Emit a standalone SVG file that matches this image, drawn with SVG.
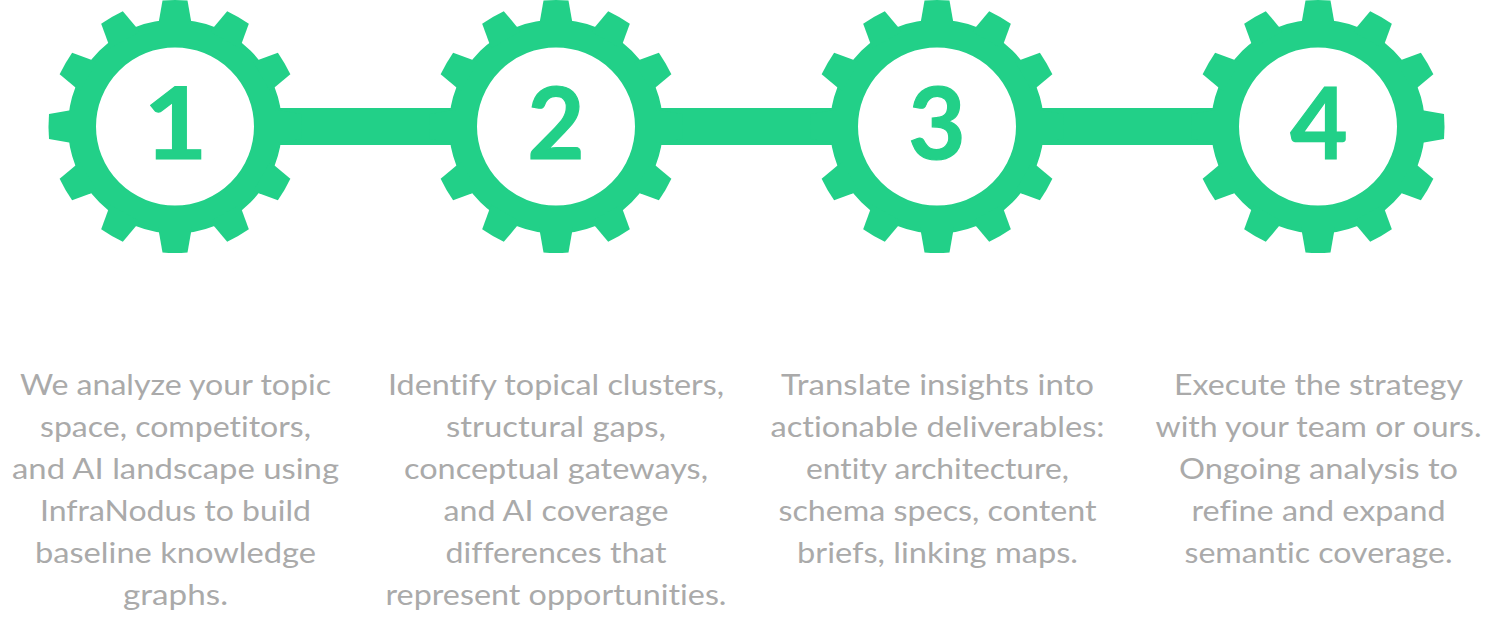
<svg xmlns="http://www.w3.org/2000/svg" width="1493" height="623" viewBox="0 0 1493 623">
<style>
.bar{fill:#22d088}
.ring{fill:none;stroke:#22d088;stroke-width:28}
.tooth{fill:#22d088}
.num{font-family:"Lato","Liberation Sans",sans-serif;font-weight:700;font-size:99px;fill:#22d088;stroke:#22d088;stroke-width:1.2px;text-anchor:middle}
.txt{font-family:"Lato","Noto Sans",sans-serif;font-size:29px;fill:#aaaaaa;text-anchor:middle;font-variant-ligatures:none}
</style>
<defs>
<path id="t" class="tooth" d="M-16.500,-100L-16,-106L-12.500,-126Q0,-127 12.500,-126L16,-106L16.500,-100Z"/>
<g id="gear">
<circle class="ring" r="93"/>
<use href="#t"/><use href="#t" transform="rotate(30)"/><use href="#t" transform="rotate(60)"/><use href="#t" transform="rotate(90)"/><use href="#t" transform="rotate(120)"/><use href="#t" transform="rotate(150)"/><use href="#t" transform="rotate(180)"/><use href="#t" transform="rotate(210)"/><use href="#t" transform="rotate(240)"/><use href="#t" transform="rotate(270)"/><use href="#t" transform="rotate(300)"/><use href="#t" transform="rotate(330)"/>
</g>
</defs>
<g id="connectors">
<rect class="bar" x="265" y="108" width="200" height="37"/>
<rect class="bar" x="646" y="108" width="200" height="37"/>
<rect class="bar" x="1027" y="108" width="200" height="37"/>
</g>
<g id="node-1">
<use href="#gear" transform="translate(175 126.500)"/>
<text class="num" x="175.500" y="158.500" textLength="64" lengthAdjust="spacingAndGlyphs">1</text>
<text class="txt" x="175.500" y="395" textLength="311" lengthAdjust="spacingAndGlyphs">We analyze your topic</text>
<text class="txt" x="175.500" y="437" textLength="271" lengthAdjust="spacingAndGlyphs">space, competitors,</text>
<text class="txt" x="175.500" y="479" textLength="327" lengthAdjust="spacingAndGlyphs">and AI landscape using</text>
<text class="txt" x="175.500" y="521" textLength="271" lengthAdjust="spacingAndGlyphs">InfraNodus to build</text>
<text class="txt" x="175.500" y="563" textLength="281" lengthAdjust="spacingAndGlyphs">baseline knowledge</text>
<text class="txt" x="175.500" y="605" textLength="105" lengthAdjust="spacingAndGlyphs">graphs.</text>
</g>
<g id="node-2">
<use href="#gear" transform="translate(556 126.500)"/>
<text class="num" x="556" y="158.500">2</text>
<text class="txt" x="556" y="395" textLength="336" lengthAdjust="spacingAndGlyphs">Identify topical clusters,</text>
<text class="txt" x="556" y="437" textLength="220" lengthAdjust="spacingAndGlyphs">structural gaps,</text>
<text class="txt" x="556" y="479" textLength="304" lengthAdjust="spacingAndGlyphs">conceptual gateways,</text>
<text class="txt" x="556" y="521" textLength="225" lengthAdjust="spacingAndGlyphs">and AI coverage</text>
<text class="txt" x="556" y="563" textLength="221" lengthAdjust="spacingAndGlyphs">differences that</text>
<text class="txt" x="556" y="605" textLength="341" lengthAdjust="spacingAndGlyphs">represent opportunities.</text>
</g>
<g id="node-3">
<use href="#gear" transform="translate(937 126.500)"/>
<text class="num" x="937" y="158.500">3</text>
<text class="txt" x="937.500" y="395" textLength="313" lengthAdjust="spacingAndGlyphs">Translate insights into</text>
<text class="txt" x="937.500" y="437" textLength="334" lengthAdjust="spacingAndGlyphs">actionable deliverables:</text>
<text class="txt" x="937.500" y="479" textLength="263" lengthAdjust="spacingAndGlyphs">entity architecture,</text>
<text class="txt" x="937.500" y="521" textLength="318" lengthAdjust="spacingAndGlyphs">schema specs, content</text>
<text class="txt" x="937.500" y="563" textLength="281" lengthAdjust="spacingAndGlyphs">briefs, linking maps.</text>
</g>
<g id="node-4">
<use href="#gear" transform="translate(1318 126.500)"/>
<text class="num" x="1319" y="158.500">4</text>
<text class="txt" x="1318.500" y="395" textLength="289" lengthAdjust="spacingAndGlyphs">Execute the strategy</text>
<text class="txt" x="1318.500" y="437" textLength="326" lengthAdjust="spacingAndGlyphs">with your team or ours.</text>
<text class="txt" x="1318.500" y="479" textLength="279" lengthAdjust="spacingAndGlyphs">Ongoing analysis to</text>
<text class="txt" x="1318.500" y="521" textLength="254" lengthAdjust="spacingAndGlyphs">refine and expand</text>
<text class="txt" x="1318.500" y="563" textLength="268" lengthAdjust="spacingAndGlyphs">semantic coverage.</text>
</g>
</svg>
